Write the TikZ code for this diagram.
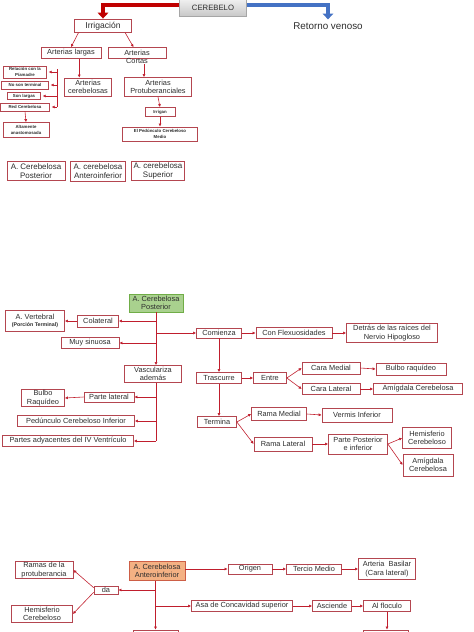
\documentclass[tikz,border=0pt]{standalone}
\usepackage{fontspec}
\setmainfont{Liberation Sans}
\usepackage{xcolor}
\usepackage{tikz}
\usetikzlibrary{arrows.meta,positioning,calc}
\definecolor{boxred}{RGB}{180,70,80}
\definecolor{linered}{RGB}{192,30,45}
\definecolor{arrowred}{RGB}{192,0,0}
\definecolor{arrowblue}{RGB}{68,114,196}
\definecolor{postgreen}{RGB}{169,209,142}
\definecolor{postgreendraw}{RGB}{112,173,71}
\definecolor{antorange}{RGB}{244,177,131}
\definecolor{antorangedraw}{RGB}{205,95,70}
\definecolor{textgray}{RGB}{45,45,45}

\begin{document}
\begin{tikzpicture}[x=0.03cm, y=-0.03cm,
    box/.style={draw=boxred, line width=0.6pt, fill=white, inner sep=0.5pt, align=center,
        text=textgray, font=\fontsize{6.3}{7.3}\selectfont},
    tinybox/.style={box, font=\fontsize{3.7}{4.4}\selectfont\bfseries},
    wh/.style 2 args={minimum width=#1*0.03cm, minimum height=#2*0.03cm},
    conn/.style={draw=linered, line width=0.5pt, -{Latex[length=2.6pt,width=2.6pt]}},
    link/.style={draw=linered, line width=0.5pt},
    bigarrow/.style={line width=3.4pt, -{Triangle[length=5pt,width=9pt]}}
]
\useasboundingbox (0,0) rectangle (474,632);
\clip (0,0) rectangle (474,632);

% Cerebelo: irrigacion y retorno venoso
\node[draw=black!35, top color=black!6, bottom color=black!22, line width=0.5pt, wh={67}{17},
    text=textgray, font=\fontsize{6.6}{8}\selectfont] (cerebelo) at (213,8) {CEREBELO};
\node[text=textgray, inner sep=0, font=\fontsize{8.4}{10}\selectfont] (retorno) at (328,26) {Retorno venoso};
\node[box, wh={57}{13}, font=\fontsize{7.3}{8.5}\selectfont] (irrig) at (103,26) {Irrigación};
\draw[bigarrow, draw=arrowred] ([yshift=2.5pt]cerebelo.west) -| ([yshift=0.5pt]irrig.north);
\draw[bigarrow, draw=arrowblue] ([yshift=2.5pt]cerebelo.east) -| ([yshift=2.5pt]retorno.north);

\node[box, wh={60}{11}] (largas) at (71,53) {Arterias largas};
\node[box, wh={58}{11}, label={[name=cortasl, inner sep=0, label distance=-0.5pt, text=textgray,
    font=\fontsize{6.3}{7.3}\selectfont]below:Cortas}] (cortas) at (137,53) {Arterias};
\draw[conn] ([xshift=-21pt]irrig.south) -- (largas.north);
\draw[conn] ([xshift=19pt]irrig.south) -- ([xshift=-3pt]cortas.north);

\node[box, wh={47}{18}] (cerebelosas) at (88,87) {Arterias\\cerebelosas};
\node[box, wh={67}{19}] (protub) at (158,87) {Arterias\\Protuberanciales};
\draw[conn] ([xshift=7pt]largas.south) -- ([xshift=7pt]largas.south |- cerebelosas.north);
\draw[conn] ([xshift=6pt]cortasl.south) -- ([xshift=6pt]cortasl.south |- protub.north);

% ramas de las arterias largas
\node[tinybox, wh={43}{12}] (piamadre) at (25,72) {Relación con la\\Píamadre};
\node[tinybox, wh={47}{8}] (noterm) at (25,85) {No son terminal};
\node[tinybox, wh={33}{7}] (sonlargas) at (24,96) {Son largas};
\node[tinybox, wh={49}{8}] (redcereb) at (25,107) {Red Cerebelosa};
\node[tinybox, wh={46}{15}] (anastom) at (26,130) {Altamente\\anastomosada};
\coordinate (lbar) at (57,69);
\draw[link] (lbar) -- (lbar |- redcereb.east);
\foreach \n in {piamadre,noterm,sonlargas,redcereb}
    \draw[conn] (lbar |- \n.east) -- ([xshift=1.5pt]\n.east);
\draw[conn] (redcereb.south) -- (anastom.north);

\node[tinybox, wh={30}{9}] (irrigan) at (160,112) {Irrigan};
\node[tinybox, wh={75}{14}] (pedmedio) at (160,134) {El Pedúnculo Cerebeloso\\Medio};
\draw[conn] (protub.south) -- (irrigan.north);
\draw[conn] (irrigan.south) -- (pedmedio.north);

\node[box, wh={58}{19}, font=\fontsize{6.8}{7.8}\selectfont] (acp) at (36,171) {A. Cerebelosa\\Posterior};
\node[box, wh={55}{20}, font=\fontsize{6.8}{7.8}\selectfont] (aca) at (98,171) {A. cerebelosa\\Anteroinferior};
\node[box, wh={53}{19}, font=\fontsize{6.8}{7.8}\selectfont] (acs) at (158,171) {A. cerebelosa\\Superior};

% A. Cerebelosa Posterior
\node[box, fill=postgreen, draw=postgreendraw, wh={54}{18}] (post) at (156,303) {A. Cerebelosa\\Posterior};
\node[box, wh={57}{17}] (vasc) at (153,374) {Vasculariza\\además};
\node[box, wh={41}{12}] (colat) at (98,321) {Colateral};
\node[box, wh={59}{21}] (vertebral) at (35,321)
    {A. Vertebral\\[-1pt]{\fontsize{4.5}{5}\selectfont\bfseries(Porción Terminal)}};
\node[box, wh={58}{11}] (sinuosa) at (90,343) {Muy sinuosa};
\draw[conn] (post.south) -- (post.south |- vasc.north);
\draw[conn] (post.south |- colat.east) -- (colat.east);
\draw[conn] (colat.west) -- (vertebral.east);
\draw[conn] (post.south |- sinuosa.east) -- (sinuosa.east);

\node[box, wh={45}{10}] (comienza) at (219,333) {Comienza};
\node[box, wh={76}{11}] (flexu) at (294,333) {Con Flexuosidades};
\node[box, wh={91}{19}] (detras) at (392,333) {Detrás de las raíces del\\Nervio Hipogloso};
\draw[conn] (post.south |- comienza.west) -- (comienza.west);
\draw[conn] (comienza.east) -- (flexu.west);
\draw[conn] (flexu.east) -- (detras.west);

\node[box, wh={45}{11}] (trasc) at (219,378) {Trascurre};
\node[box, wh={33}{11}] (entre) at (270,378) {Entre};
\node[box, wh={58}{12}] (caramed) at (331,368) {Cara Medial};
\node[box, wh={58}{11}] (caralat) at (331,389) {Cara Lateral};
\node[box, wh={70}{12}] (bulbo) at (411,369) {Bulbo raquídeo};
\node[box, wh={89}{11}] (amigdala) at (418,389) {Amígdala Cerebelosa};
\draw[conn] (comienza.south) -- (trasc.north);
\draw[conn] (trasc.east) -- (entre.west);
\draw[conn] (entre.east) -- (caramed.west);
\draw[conn] (entre.east) -- (caralat.west);
\draw[conn] (caramed.east) -- (bulbo.west);
\draw[conn] (caralat.east) -- (amigdala.west);

\node[box, wh={39}{11}] (termina) at (217,422) {Termina};
\node[box, wh={55}{13}] (ramamed) at (279,414) {Rama Medial};
\node[box, wh={70}{14}] (vermis) at (357,415) {Vermis Inferior};
\node[box, wh={58}{14}] (ramalat) at (283,444) {Rama Lateral};
\node[box, wh={59}{20}] (parpost) at (358,444) {Parte Posterior\\e inferior};
\node[box, wh={49}{21}] (hemisf) at (427,438) {Hemisferio\\Cerebeloso};
\node[box, wh={50}{22}] (amigd) at (428,465) {Amígdala\\Cerebelosa};
\draw[conn] (trasc.south) -- (termina.north -| trasc.south);
\draw[conn] (termina.east) -- (ramamed.west);
\draw[conn] (termina.east) -- (ramalat.west);
\draw[conn] (ramamed.east) -- (vermis.west);
\draw[conn] (ramalat.east) -- (parpost.west);
\draw[conn] (parpost.east) -- (hemisf.west);
\draw[conn] (parpost.east) -- (amigd.west);

\node[box, wh={50}{10}] (partelat) at (109,397) {Parte lateral};
\node[box, wh={43}{17}] (bulbor) at (43,398) {Bulbo\\Raquídeo};
\node[box, wh={117}{11}] (pedinf) at (76,421) {Pedúnculo Cerebeloso Inferior};
\node[box, wh={131}{11}] (partady) at (68,441) {Partes adyacentes del IV Ventrículo};
\draw[link] (post.south |- vasc.south) -- (post.south |- partady.east);
\foreach \n in {partelat,pedinf,partady}
    \draw[conn] (post.south |- \n.east) -- (\n.east);
\draw[conn] (partelat.west) -- (bulbor.east);

% A. Cerebelosa Anteroinferior
\node[box, fill=antorange, draw=antorangedraw, wh={56}{19}] (antinf) at (157,571) {A. Cerebelosa\\Anteroinferior};
\node[box, wh={24}{8}] (da) at (106,590) {da};
\node[box, wh={58}{16}] (ramas) at (44,570) {Ramas de la\\protuberancia};
\node[box, wh={61}{17}] (hemisf2) at (42,614) {Hemisferio\\Cerebeloso};
\node[box, wh={44}{10}] (origen) at (250,569) {Origen};
\node[box, wh={55}{10}] (tercio) at (314,569) {Tercio Medio};
\node[box, wh={57}{21}] (basilar) at (387,569) {Arteria~~Basilar\\(Cara lateral)};
\node[box, wh={101}{11}] (asa) at (242,606) {Asa de Concavidad superior};
\node[box, wh={39}{11}] (asciende) at (332,606) {Asciende};
\node[box, wh={47}{11}] (floculo) at (387,606) {Al floculo};
\node[box, wh={45}{24}] (abajo1) at (155.5,642) {};
\node[box, wh={45}{24}] (abajo2) at (385.5,642) {};
\draw[conn] (antinf.south -| abajo1.north) -- (abajo1.north);
\draw[conn] (antinf.east |- origen.west) -- (origen.west);
\draw[conn] (origen.east) -- (tercio.west);
\draw[conn] (tercio.east) -- (basilar.west);
\draw[conn] (da.east -| abajo1.north) -- (da.east);
\draw[conn] ([yshift=2pt]da.west) -- (ramas.east);
\draw[conn] ([yshift=-2pt]da.west) -- (hemisf2.east);
\draw[conn] (asa.west -| abajo1.north) -- (asa.west);
\draw[conn] (asa.east) -- (asciende.west);
\draw[conn] (asciende.east) -- (floculo.west);
\draw[conn] (floculo.south) -- (floculo.south |- abajo2.north);
\end{tikzpicture}
\end{document}
